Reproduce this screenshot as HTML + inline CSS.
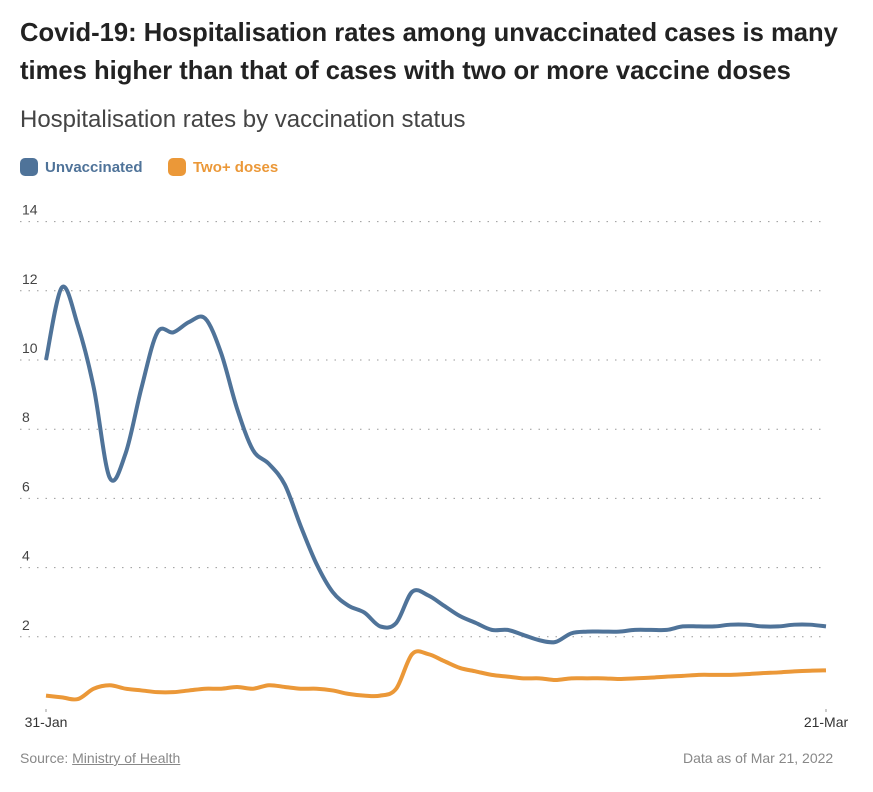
<!DOCTYPE html>
<html><head><meta charset="utf-8"><style>
body{margin:0;background:#fff;font-family:"Liberation Sans",sans-serif;}
#wrap{position:relative;width:873px;height:792px;overflow:hidden;}
h1{position:absolute;left:20px;top:14px;margin:0;font-size:25.6px;line-height:38px;font-weight:bold;color:#222;width:860px;}
.sub{position:absolute;left:20px;top:106px;font-size:24px;color:#444;}
.leg{position:absolute;top:158px;font-size:15px;font-weight:bold;}
.sw{display:inline-block;width:18px;height:18px;border-radius:5px;vertical-align:-4px;margin-right:7px;}
.foot{position:absolute;top:750px;font-size:14px;color:#888;}
</style></head><body>
<div id="wrap">
<h1>Covid-19: Hospitalisation rates among unvaccinated cases is many times higher than that of cases with two or more vaccine doses</h1>
<div class="sub">Hospitalisation rates by vaccination status</div>
<div class="leg" style="left:20px;color:#4f7399"><span class="sw" style="background:#4f7399"></span>Unvaccinated</div>
<div class="leg" style="left:168px;color:#eb9838"><span class="sw" style="background:#eb9838"></span>Two+ doses</div>
<svg id="chart" width="873" height="792" style="position:absolute;left:0;top:0"></svg>
<div class="foot" style="left:20px">Source: <span style="text-decoration:underline">Ministry of Health</span></div>
<div class="foot" style="left:683px">Data as of Mar 21, 2022</div>
</div>
<script>
const xLabels=["31-Jan","21-Mar"];
const yTicks=[2,4,6,8,10,12,14];
const unvaccinated=[10.0,12.1,11.0,9.2,6.6,7.3,9.2,10.8,10.8,11.1,11.2,10.2,8.6,7.4,7.0,6.4,5.2,4.1,3.3,2.9,2.7,2.3,2.4,3.3,3.2,2.9,2.6,2.4,2.2,2.2,2.05,1.9,1.85,2.1,2.15,2.15,2.15,2.2,2.2,2.2,2.3,2.3,2.3,2.35,2.35,2.3,2.3,2.35,2.35,2.3];
const twoPlus=[0.3,0.25,0.2,0.5,0.6,0.5,0.45,0.4,0.4,0.45,0.5,0.5,0.55,0.5,0.6,0.55,0.5,0.5,0.45,0.35,0.3,0.3,0.5,1.5,1.5,1.3,1.1,1.0,0.9,0.85,0.8,0.8,0.75,0.8,0.8,0.8,0.78,0.8,0.82,0.85,0.87,0.9,0.9,0.9,0.92,0.95,0.97,1.0,1.02,1.03];
const svg=document.getElementById('chart');const NS='http://www.w3.org/2000/svg';
const X0=46,X1=826,Y0=706,YPER=34.6;
const n=unvaccinated.length;
const xs=i=>X0+(X1-X0)*i/(n-1);
const ys=v=>Y0-v*YPER;
function mk(t,a){const e=document.createElementNS(NS,t);for(const k in a)e.setAttribute(k,a[k]);svg.appendChild(e);return e;}
yTicks.forEach(v=>{
 const g=mk('line',{x1:20,x2:822,y1:ys(v),y2:ys(v),stroke:'#999','stroke-width':1,'stroke-dasharray':'1.5,7'});
 
 
 const t=mk('text',{x:22,y:ys(v)-7,'font-size':14,fill:'#444','font-family':'Liberation Sans, sans-serif'});
 t.textContent=v;
 
 
});
[0,n-1].forEach((i,k)=>{
 const tk=mk('line',{x1:xs(i),x2:xs(i),y1:Y0+3,y2:Y0+6,stroke:'#999'});
 
 
 const t=mk('text',{x:xs(i),y:Y0+21,'font-size':14,fill:'#333','text-anchor':'middle','font-family':'Liberation Sans, sans-serif'});
 t.textContent=xLabels[k];
 
 
});
function path(vals){
 const p=vals.map((v,i)=>[xs(i),ys(v)]);let d='M'+p[0][0]+','+p[0][1];
 for(let i=0;i<p.length-1;i++){const a=p[i-1]||p[i],b=p[i],c=p[i+1],e=p[i+2]||c;
  d+=' C'+(b[0]+(c[0]-a[0])/6)+','+(b[1]+(c[1]-a[1])/6)+' '+(c[0]-(e[0]-b[0])/6)+','+(c[1]-(e[1]-b[1])/6)+' '+c[0]+','+c[1];}
 return d;}
const l2=mk('path',{d:path(twoPlus),fill:'none',stroke:'#eb9838','stroke-width':4,'stroke-linejoin':'round'});


const l1=mk('path',{d:path(unvaccinated),fill:'none',stroke:'#4f7399','stroke-width':4,'stroke-linejoin':'round'});


</script>
</body></html>
